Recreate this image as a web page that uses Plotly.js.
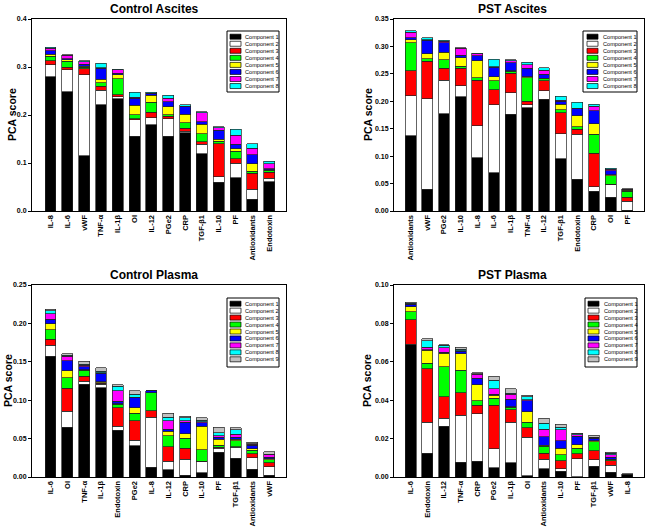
<!DOCTYPE html>
<html>
<head>
<meta charset="utf-8">
<script src="https://cdn.plot.ly/plotly-3.0.1.min.js"></script>
<style>
  html, body { margin: 0; padding: 0; background: #fff; }
  #chart { width: 649px; height: 532px; }
</style>
</head>
<body>
<div id="chart"></div>
<script>
// ---- data ----
const compNames = ['Component 1', 'Component 2', 'Component 3', 'Component 4', 'Component 5',
                   'Component 6', 'Component 7', 'Component 8', 'Component 9'];
const compColors = ['#000000', '#ffffff', '#ff0000', '#00ff00', '#ffff00',
                    '#0000ff', '#ff00ff', '#00ffff', '#c0c0c0'];

// Control Ascites
const caCats = ['IL-8', 'IL-6', 'vWF', 'TNF-α', 'IL-1β', 'OI', 'IL-12', 'PGe2', 'CRP', 'TGF-β1', 'IL-10', 'PF', 'Antioxidants', 'Endotoxin'];
const ca1 = [0.280, 0.248, 0.115, 0.221, 0.234, 0.156, 0.180, 0.156, 0.163, 0.119, 0.060, 0.069, 0.024, 0.061];
const ca2 = [0.025, 0.046, 0.169, 0.031, 0.004, 0.034, 0.014, 0.036, 0.003, 0.020, 0.011, 0.031, 0.021, 0.007];
const ca3 = [0.008, 0.005, 0.012, 0.008, 0.004, 0.002, 0.012, 0.005, 0.006, 0.005, 0.069, 0.009, 0.034, 0.013];
const ca4 = [0.009, 0.013, 0.004, 0.007, 0.034, 0.009, 0.021, 0.004, 0.012, 0.017, 0.005, 0.015, 0.004, 0.004];
const ca5 = [0.005, 0.003, 0.002, 0.008, 0.008, 0.019, 0.014, 0.016, 0.018, 0.020, 0.004, 0.006, 0.015, 0.001];
const ca6 = [0.007, 0.002, 0.004, 0.022, 0.003, 0.015, 0.003, 0.011, 0.015, 0.005, 0.019, 0.009, 0.019, 0.002];
const ca7 = [0.005, 0.007, 0.005, 0.001, 0.007, 0.002, 0.001, 0.007, 0.001, 0.019, 0.005, 0.019, 0.014, 0.010];
const ca8 = [0.002, 0.002, 0.002, 0.010, 0.001, 0.010, 0.002, 0.006, 0.003, 0.002, 0.003, 0.012, 0.009, 0.006];

// PST Ascites
const paCats = ['Antioxidants', 'vWF', 'PGe2', 'IL-10', 'IL-8', 'IL-6', 'IL-1β', 'TNF-α', 'IL-12', 'TGF-β1', 'Endotoxin', 'CRP', 'OI', 'PF'];
const pa1 = [0.137, 0.040, 0.177, 0.208, 0.097, 0.070, 0.176, 0.188, 0.204, 0.095, 0.058, 0.036, 0.0255, 0.001];
const pa2 = [0.073, 0.165, 0.061, 0.020, 0.058, 0.124, 0.040, 0.006, 0.015, 0.046, 0.082, 0.008, 0.022, 0.017];
const pa3 = [0.046, 0.068, 0.022, 0.032, 0.083, 0.027, 0.035, 0.006, 0.018, 0.038, 0.009, 0.061, 0.001, 0.007];
const pa4 = [0.051, 0.005, 0.016, 0.004, 0.005, 0.016, 0.004, 0.043, 0.004, 0.006, 0.005, 0.035, 0.016, 0.011];
const pa5 = [0.005, 0.009, 0.013, 0.015, 0.031, 0.008, 0.001, 0.002, 0.001, 0.010, 0.020, 0.019, 0.002, 0.002];
const pa6 = [0.004, 0.024, 0.018, 0.005, 0.009, 0.017, 0.014, 0.015, 0.007, 0.005, 0.012, 0.024, 0.007, 0.001];
const pa7 = [0.010, 0.001, 0.002, 0.013, 0.004, 0.001, 0.004, 0.007, 0.008, 0.002, 0.001, 0.008, 0.003, 0.001];
const pa8 = [0.003, 0.004, 0.002, 0.001, 0.001, 0.014, 0.002, 0.004, 0.004, 0.007, 0.011, 0.004, 0.001, 0.001];

// Control Plasma
const cpCats = ['IL-6', 'OI', 'TNF-α', 'IL-1β', 'Endotoxin', 'PGe2', 'IL-8', 'IL-12', 'CRP', 'IL-10', 'PF', 'TGF-β1', 'Antioxidants', 'vWF'];
const cp1 = [0.157, 0.065, 0.1207, 0.116, 0.061, 0.041, 0.013, 0.0095, 0.002, 0.0056, 0.032, 0.0243, 0.010, 0.0026];
const cp2 = [0.0145, 0.0205, 0.004, 0.005, 0.005, 0.007, 0.065, 0.011, 0.021, 0.0144, 0.0055, 0.0143, 0.015, 0.011];
const cp3 = [0.008, 0.030, 0.0065, 0.001, 0.024, 0.025, 0.008, 0.019, 0.0145, 0.0005, 0.001, 0.001, 0.0056, 0.0047];
const cp4 = [0.012, 0.014, 0.0075, 0.001, 0.0045, 0.010, 0.0235, 0.014, 0.013, 0.0147, 0.003, 0.0077, 0.0044, 0.0044];
const cp5 = [0.008, 0.009, 0.001, 0.001, 0.001, 0.0075, 0.0005, 0.006, 0.006, 0.031, 0.0078, 0.002, 0.0017, 0.001];
const cp6 = [0.006, 0.013, 0.004, 0.011, 0.003, 0.0125, 0.002, 0.0025, 0.0145, 0.0045, 0.0025, 0.0025, 0.0048, 0.002];
const cp7 = [0.007, 0.006, 0.002, 0.001, 0.014, 0.001, 0.0005, 0.011, 0.002, 0.001, 0.002, 0.0036, 0.001, 0.003];
const cp8 = [0.004, 0.001, 0.001, 0.002, 0.0055, 0.004, 0, 0.005, 0.004, 0.002, 0.004, 0.006, 0.001, 0.001];
const cp9 = [0.002, 0.002, 0.004, 0.004, 0.002, 0.004, 0, 0.005, 0.002, 0.0034, 0.007, 0.0026, 0.002, 0.003];

// PST Plasma
const ppCats = ['IL-6', 'Endotoxin', 'IL-12', 'TNF-α', 'CRP', 'PGe2', 'IL-1β', 'OI', 'Antioxidants', 'IL-10', 'PF', 'TGF-β1', 'vWF', 'IL-8'];
const pp1 = [0.069, 0.0123, 0.0264, 0.0076, 0.0082, 0.0047, 0.0075, 0.0007, 0.0043, 0.003, 0.0002, 0.0056, 0.0026, 0.0014];
const pp2 = [0.0002, 0.0162, 0.0043, 0.0245, 0.0248, 0.0099, 0.0211, 0.020, 0.0049, 0.0013, 0.0092, 0.0034, 0.0035, 0];
const pp3 = [0.0127, 0.0279, 0.011, 0.0118, 0.0045, 0.0229, 0.0063, 0.005, 0.0033, 0.0042, 0.0026, 0.0047, 0.0024, 0];
const pp4 = [0.0041, 0.0028, 0.0156, 0.0118, 0.0021, 0.0035, 0.0014, 0.0028, 0.0035, 0.003, 0.0029, 0.0047, 0.0005, 0];
const pp5 = [0.0028, 0.0068, 0.0071, 0.0085, 0.0085, 0.0015, 0.0003, 0.0054, 0.0005, 0.0036, 0.0018, 0.0005, 0.0002, 0];
const pp6 = [0.001, 0.0004, 0.0005, 0.0013, 0.0033, 0.0007, 0.004, 0.0059, 0.0045, 0.0038, 0.0045, 0.0014, 0.0012, 0];
const pp7 = [0.0003, 0.0013, 0.0023, 0.0003, 0.0021, 0.0028, 0.0026, 0.0005, 0.004, 0.0058, 0.0008, 0.0003, 0.0012, 0];
const pp8 = [0.0005, 0.0033, 0.0014, 0.0008, 0.0003, 0.0045, 0.0004, 0.0014, 0.0031, 0.0012, 0.0004, 0.0002, 0.0009, 0];
const pp9 = [0.0003, 0.0009, 0.0004, 0.0011, 0.0004, 0.0019, 0.0024, 0.0008, 0.0026, 0.0017, 0.0003, 0.0009, 0.0005, 0.0002];

// ---- layout helpers (pixel -> paper) ----
const W = 649, H = 532;
const px = x => x / W;
const py = y => 1 - y / H;
const FONT = 'Arial, "Liberation Sans", sans-serif';

const panels = [
  { title: 'Control Ascites', cats: caCats, series: [ca1, ca2, ca3, ca4, ca5, ca6, ca7, ca8],
    box: [32, 19, 286, 211], range: [0, 0.4], dtick: 0.1, fmt: '.1f', xr: [-1.1, 14],
    titleXY: [154, 9], ytX: 12, legend: [227, 31, 279, 92], sw: 230, tx: 243, ly0: 36.7, ystep: 7.05 },
  { title: 'PST Ascites', cats: paCats, series: [pa1, pa2, pa3, pa4, pa5, pa6, pa7, pa8],
    box: [394, 19, 644, 211], range: [0, 0.35], dtick: 0.05, fmt: '.2f', xr: [-1, 14],
    titleXY: [512, 9], ytX: 368, legend: [583, 31, 637, 92], sw: 587, tx: 601, ly0: 36.7, ystep: 7.05 },
  { title: 'Control Plasma', cats: cpCats, series: [cp1, cp2, cp3, cp4, cp5, cp6, cp7, cp8, cp9],
    box: [32, 285, 286, 477], range: [0, 0.25], dtick: 0.05, fmt: '.2f', xr: [-1.1, 14],
    titleXY: [154, 275], ytX: 8, legend: [227, 298, 279, 367], sw: 230, tx: 243, ly0: 303.7, ystep: 6.95 },
  { title: 'PST Plasma', cats: ppCats, series: [pp1, pp2, pp3, pp4, pp5, pp6, pp7, pp8, pp9],
    box: [394, 285, 644, 477], range: [0, 0.10], dtick: 0.02, fmt: '.2f', xr: [-1, 14],
    titleXY: [512, 275], ytX: 367, legend: [585, 298, 637, 367], sw: 588, tx: 602, ly0: 303.7, ystep: 6.95 }
];

const traces = [];
const layout = {
  width: W, height: H,
  margin: { l: 0, r: 0, t: 0, b: 0 },
  paper_bgcolor: '#fff', plot_bgcolor: '#fff',
  barmode: 'stack', bargap: 0.35,
  showlegend: false,
  font: { family: FONT, color: '#000' },
  shapes: [], annotations: []
};

panels.forEach((p, k) => {
  const sfx = k === 0 ? '' : String(k + 1);
  p.series.forEach((vals, i) => {
    traces.push({
      type: 'bar', name: compNames[i], x: p.cats, y: vals,
      xaxis: 'x' + sfx, yaxis: 'y' + sfx,
      marker: { color: compColors[i], line: { color: '#222', width: 0.7 } },
      hoverinfo: 'skip'
    });
  });

  const [x0, y0, x1, y1] = p.box;
  layout['xaxis' + sfx] = {
    domain: [px(x0), px(x1)], anchor: 'y' + sfx,
    type: 'category', range: p.xr, automargin: false,
    showline: true, linecolor: '#000', linewidth: 1, mirror: true,
    ticks: '', showgrid: false, zeroline: false,
    tickangle: -90, tickfont: { family: FONT, size: 7.5, weight: 700 }
  };
  layout['yaxis' + sfx] = {
    domain: [py(y1), py(y0)], anchor: 'x' + sfx,
    range: p.range, dtick: p.dtick, tickformat: p.fmt, automargin: false,
    showline: true, linecolor: '#000', linewidth: 1, mirror: true,
    ticks: 'outside', ticklen: 3, tickcolor: '#000', showgrid: false, zeroline: false,
    tickfont: { family: FONT, size: 7, weight: 700 }
  };

  // panel title and y title
  layout.annotations.push({
    xref: 'paper', yref: 'paper', x: px(p.titleXY[0]), y: py(p.titleXY[1]),
    xanchor: 'center', yanchor: 'middle', showarrow: false,
    text: p.title, font: { family: FONT, size: 12, weight: 700 }
  });
  layout.annotations.push({
    xref: 'paper', yref: 'paper', x: px(p.ytX), y: py((y0 + y1) / 2),
    xanchor: 'center', yanchor: 'middle', showarrow: false, textangle: -90,
    text: 'PCA score', font: { family: FONT, size: 10.5, weight: 700 }
  });

  // legend box drawn by hand so the entries stay as tight as in the reference
  const [lx0, ly0, lx1, ly1] = p.legend;
  layout.shapes.push({
    type: 'rect', xref: 'paper', yref: 'paper',
    x0: px(lx0), x1: px(lx1), y0: py(ly1), y1: py(ly0),
    fillcolor: '#fff', line: { color: '#000', width: 1 }
  });
  p.series.forEach((vals, i) => {
    const cy = p.ly0 + i * p.ystep;
    layout.shapes.push({
      type: 'rect', xref: 'paper', yref: 'paper',
      x0: px(p.sw), x1: px(p.sw + 11), y0: py(cy + 2.5), y1: py(cy - 2.5),
      fillcolor: compColors[i], line: { color: '#000', width: 0.7 }
    });
    layout.annotations.push({
      xref: 'paper', yref: 'paper', x: px(p.tx), y: py(cy),
      xanchor: 'left', yanchor: 'middle', showarrow: false,
      text: compNames[i], font: { family: FONT, size: 5.6 }
    });
  });
});

Plotly.newPlot('chart', traces, layout, { displayModeBar: false, staticPlot: true });
</script>
</body>
</html>
